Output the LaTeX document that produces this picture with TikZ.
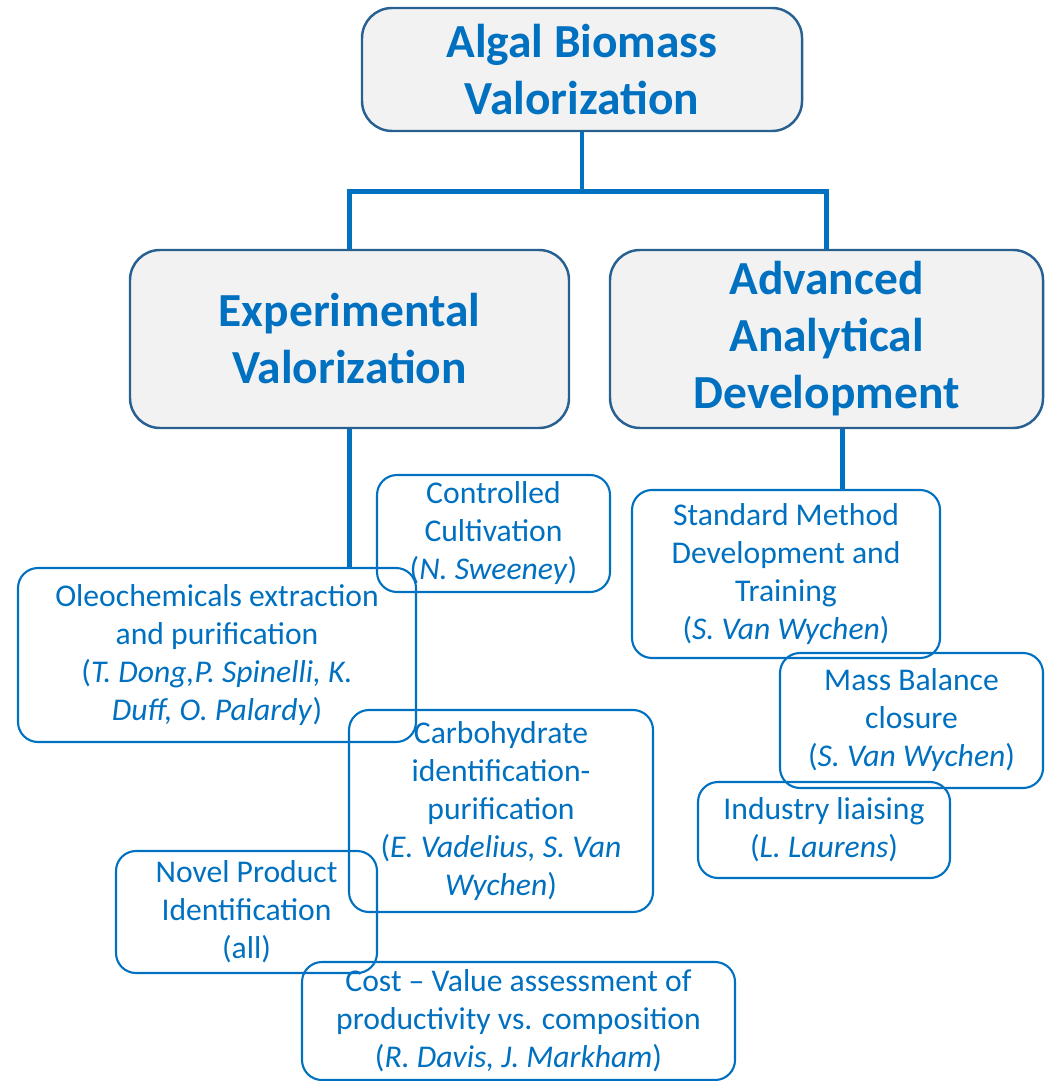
\documentclass[tikz,border=0pt]{standalone}
\usepackage{fontspec}
\setmainfont{Carlito}
\usepackage{tikz}
\usetikzlibrary{positioning}
\definecolor{algblue}{RGB}{0,112,192}
\definecolor{headline}{RGB}{40,96,146}
\definecolor{headfill}{RGB}{242,242,242}

\begin{document}
\begin{tikzpicture}[
    head/.style={draw=headline, line width=0.7pt, fill=headfill, rounded corners=0.3cm,
      align=center, text=algblue, inner sep=0pt, font=\fontsize{13.5}{16.2}\selectfont\bfseries},
    task/.style={draw=algblue, line width=0.6pt, rounded corners=0.2cm,
      align=center, text=algblue, inner sep=0pt, font=\fontsize{9}{10.8}\selectfont},
    link/.style={draw=algblue, line width=1.4pt}]
  \useasboundingbox (0,0) rectangle (10.44,-10.81);

  \node[head, minimum width=4.40cm, minimum height=1.23cm] (top) at (5.82,-0.695)
    {Algal Biomass\\Valorization};
  \node[head, minimum width=4.39cm, minimum height=1.78cm] (exp) at (3.495,-3.39)
    {Experimental\\Valorization};
  \node[head, minimum width=4.33cm, minimum height=1.78cm] (adv) at (8.265,-3.39)
    {Advanced\\Analytical\\Development};

  \node[task, minimum width=2.33cm, minimum height=1.17cm] (cult) at (4.935,-5.335)
    {Controlled\\Cultivation\\(\textit{N. Sweeney})};
  \node[task, minimum width=3.98cm, minimum height=1.74cm] (oleo) at (2.17,-6.55)
    {Oleochemicals extraction\\and purification\\(\textit{T. Dong,P. Spinelli, K.}\\\textit{Duff, O. Palardy})};
  \node[task, minimum width=3.04cm, minimum height=2.02cm] (carb) at (5.01,-8.11)
    {Carbohydrate\\identification-\\purification\\(\textit{E. Vadelius, S. Van}\\\textit{Wychen})};
  \node[task, minimum width=2.61cm, minimum height=1.22cm] (novel) at (2.465,-9.12)
    {Novel Product\\Identification\\(all)};
  \node[task, minimum width=4.33cm, minimum height=1.18cm] (cost) at (5.185,-10.21)
    {Cost -- Value assessment of\\productivity vs. composition\\(\textit{R. Davis, J. Markham})};

  \node[task, minimum width=3.08cm, minimum height=1.68cm] (std) at (7.86,-5.74)
    {Standard Method\\Development and\\Training\\(\textit{S. Van Wychen})};
  \node[task, minimum width=2.63cm, minimum height=1.35cm] (mass) at (9.115,-7.205)
    {Mass Balance\\closure\\(\textit{S. Van Wychen})};
  \node[task, minimum width=2.52cm, minimum height=0.96cm] (ind) at (8.24,-8.30)
    {Industry liaising\\(\textit{L. Laurens})};

  \draw[link] (top.south) -- ++(0,-0.59) coordinate (fork);
  \draw[link] (exp.north) |- (fork) -| (adv.north);
  \draw[link] (exp.south) -- (exp.south |- oleo.north);
  \draw[link] ([xshift=0.16cm]adv.south) -- ([xshift=0.16cm]adv.south |- std.north);
\end{tikzpicture}
\end{document}
